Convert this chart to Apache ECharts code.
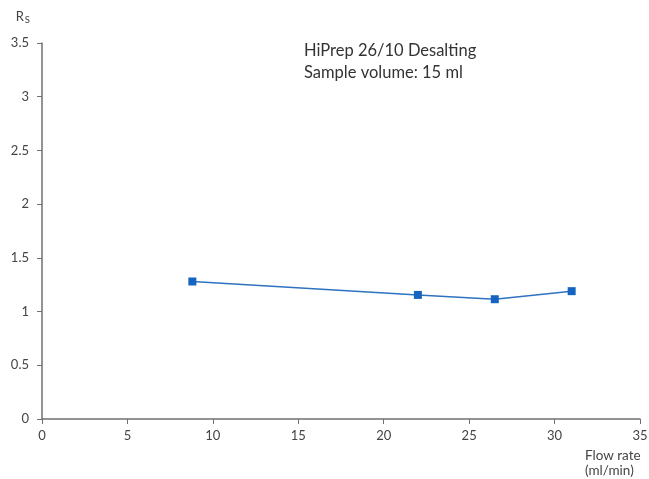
<!DOCTYPE html>
<html>
<head>
<meta charset="utf-8">
<script src="https://cdn.jsdelivr.net/npm/echarts@6/dist/echarts.min.js"></script>
<style>html,body{margin:0;padding:0;background:#fff}#c{width:649px;height:479px}</style>
</head>
<body>
<div id="c"></div>
<script>
var flowRate = [8.8, 22, 26.5, 31];
var rs = [1.28, 1.155, 1.115, 1.19];
var titleLines = ['HiPrep 26/10 Desalting', 'Sample volume: 15 ml'];
var xAxisName = ['Flow rate', '(ml/min)'];

var chart = echarts.init(document.getElementById('c'));
var axisColor = '#707070';
var labelColor = '#444';
var font = 'Lato, "Open Sans", sans-serif';
chart.setOption({
  animation: false,
  title: {
    text: titleLines.join('\n'),
    left: 299, top: 35,
    textStyle: {fontSize: 16.5, fontWeight: 'normal', color: '#333', fontFamily: font, lineHeight: 22}
  },
  graphic: [{
    type: 'text', left: 585, top: 448,
    style: {text: xAxisName.join('\n'), fill: labelColor, fontSize: 13.5, fontFamily: font, lineHeight: 15}
  }],
  grid: {left: 42, right: 9, top: 43, bottom: 60, containLabel: false, outerBoundsMode: 'none'},
  xAxis: {
    type: 'value', min: 0, max: 35, interval: 5,
    axisLine: {show: true, lineStyle: {color: axisColor, width: 1.5}},
    axisTick: {show: true, inside: false, length: 5, lineStyle: {color: axisColor}},
    axisLabel: {color: labelColor, fontSize: 13, fontFamily: font, margin: 10},
    splitLine: {show: false}
  },
  yAxis: {
    type: 'value', min: 0, max: 3.5, interval: 0.5,
    name: '{r|R}{s|S}', nameLocation: 'end', nameGap: 18,
    nameTextStyle: {align: 'right', padding: [0, 12, 0, 0],
      rich: {r: {fontSize: 13, color: labelColor, fontFamily: font}, s: {fontSize: 9.5, color: labelColor, fontFamily: font, padding: [6, 0, 0, 1]}}},
    axisLine: {show: true, lineStyle: {color: axisColor, width: 1.5}},
    axisTick: {show: true, inside: false, length: 5, lineStyle: {color: axisColor}},
    axisLabel: {color: labelColor, fontSize: 13, fontFamily: font, margin: 13},
    splitLine: {show: false}
  },
  series: [{
    type: 'line',
    data: flowRate.map(function (x, i) { return [x, rs[i]]; }),
    symbol: 'rect', symbolSize: 8,
    lineStyle: {color: '#2f72c0', width: 1.5},
    itemStyle: {color: '#1565c0'}
  }]
});
</script>
</body>
</html>
